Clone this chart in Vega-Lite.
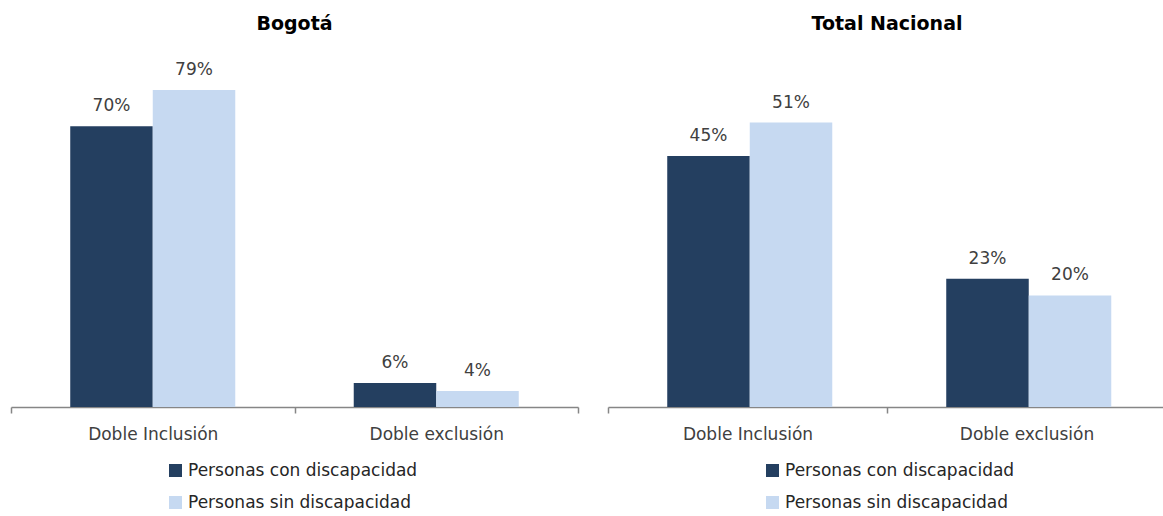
{
  "$schema": "https://vega.github.io/schema/vega-lite/v6.json",
  "padding": {"left": 10, "top": 15, "right": 0, "bottom": 0},
  "background": "white",
  "datasets": {
    "bogota": [
      {"cat": "Doble Inclusión", "grupo": "Personas con discapacidad", "valor": 0.70},
      {"cat": "Doble Inclusión", "grupo": "Personas sin discapacidad", "valor": 0.79},
      {"cat": "Doble exclusión", "grupo": "Personas con discapacidad", "valor": 0.06},
      {"cat": "Doble exclusión", "grupo": "Personas sin discapacidad", "valor": 0.04}
    ],
    "nacional": [
      {"cat": "Doble Inclusión", "grupo": "Personas con discapacidad", "valor": 0.45},
      {"cat": "Doble Inclusión", "grupo": "Personas sin discapacidad", "valor": 0.51},
      {"cat": "Doble exclusión", "grupo": "Personas con discapacidad", "valor": 0.23},
      {"cat": "Doble exclusión", "grupo": "Personas sin discapacidad", "valor": 0.20}
    ]
  },
  "hconcat": [
    {
      "data": {"name": "bogota"},
      "width": 567,
      "height": 357,
      "title": {"text": "Bogotá"},
      "encoding": {
        "x": {"field": "cat", "type": "nominal", "sort": ["Doble Inclusión", "Doble exclusión"], "scale": {"paddingInner": 0, "paddingOuter": 0}, "axis": {"title": null}},
        "xOffset": {"field": "grupo", "type": "nominal", "sort": ["Personas con discapacidad", "Personas sin discapacidad"], "scale": {"paddingInner": 0, "paddingOuter": 0.718}},
        "y": {"field": "valor", "type": "quantitative", "scale": {"domain": [0, 0.89]}, "axis": null}
      },
      "layer": [
        {
          "mark": {"type": "bar"},
          "encoding": {
            "color": {"field": "grupo", "type": "nominal", "sort": ["Personas con discapacidad", "Personas sin discapacidad"], "scale": {"range": ["#243F60", "#C6D9F1"]}, "legend": {"title": null, "orient": "none", "legendX": 156, "legendY": 412}}
          }
        },
        {
          "mark": {"type": "text", "dy": -11, "fontSize": 17, "color": "#404040", "baseline": "bottom"},
          "encoding": {"text": {"field": "valor", "type": "quantitative", "format": ".0%"}}
        }
      ]
    },
    {
      "data": {"name": "nacional"},
      "width": 558,
      "height": 357,
      "title": {"text": "Total Nacional"},
      "encoding": {
        "x": {"field": "cat", "type": "nominal", "sort": ["Doble Inclusión", "Doble exclusión"], "scale": {"paddingInner": 0, "paddingOuter": 0}, "axis": {"title": null}},
        "xOffset": {"field": "grupo", "type": "nominal", "sort": ["Personas con discapacidad", "Personas sin discapacidad"], "scale": {"paddingInner": 0, "paddingOuter": 0.70}},
        "y": {"field": "valor", "type": "quantitative", "scale": {"domain": [0, 0.64]}, "axis": null}
      },
      "layer": [
        {
          "mark": {"type": "bar"},
          "encoding": {
            "color": {"field": "grupo", "type": "nominal", "sort": ["Personas con discapacidad", "Personas sin discapacidad"], "scale": {"range": ["#243F60", "#C6D9F1"]}, "legend": {"title": null, "orient": "none", "legendX": 156, "legendY": 412}}
          }
        },
        {
          "mark": {"type": "text", "dy": -11, "fontSize": 17, "color": "#404040", "baseline": "bottom"},
          "encoding": {"text": {"field": "valor", "type": "quantitative", "format": ".0%"}}
        }
      ]
    }
  ],
  "spacing": 28,
  "resolve": {"scale": {"color": "independent", "x": "independent", "y": "independent"}, "legend": {"color": "independent"}},
  "config": {
    "font": "DejaVu Sans",
    "view": {"stroke": null},
    "title": {"fontSize": 19, "fontWeight": "bold", "color": "#000000", "anchor": "middle", "offset": 16},
    "axisX": {
      "labelAngle": 0,
      "labelFontSize": 17,
      "labelColor": "#404040",
      "labelPadding": 13,
      "domainColor": "#868686",
      "domainWidth": 1.5,
      "tickColor": "#868686",
      "tickWidth": 1.5,
      "tickSize": 6,
      "tickBand": "extent",
      "grid": false
    },
    "legend": {
      "labelFontSize": 17,
      "labelColor": "#262626",
      "symbolType": "square",
      "symbolSize": 170,
      "symbolStrokeWidth": 0,
      "rowPadding": 14,
      "labelOffset": 4,
      "labelLimit": 400
    }
  }
}
